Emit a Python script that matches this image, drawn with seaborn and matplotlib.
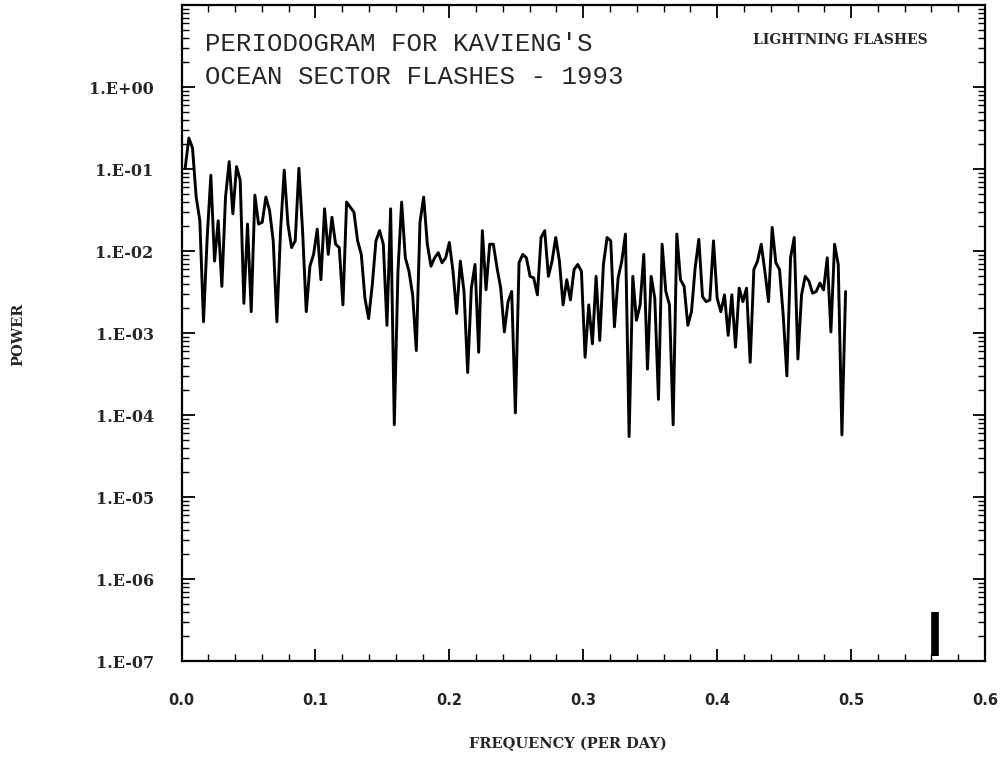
import numpy as np
import pandas as pd
import matplotlib
matplotlib.use("Agg")
import matplotlib.pyplot as plt
import matplotlib.ticker as mticker
import seaborn as sns

# ---------------- data ----------------
n_days = 365
power = [
    0.102, 0.239, 0.18, 0.0455, 0.0234, 0.00137, 0.0146, 0.084, 0.00753, 0.0234,
    0.0037, 0.0455, 0.123, 0.0284, 0.107, 0.073, 0.0023, 0.0213, 0.00182, 0.048,
    0.0213, 0.0224, 0.0455, 0.0312, 0.0133, 0.00137, 0.0177, 0.097, 0.0213, 0.011,
    0.0133, 0.102, 0.0177, 0.00182, 0.00653, 0.0091, 0.0185, 0.00447, 0.0327, 0.0091,
    0.0258, 0.0121, 0.011, 0.0022, 0.0395, 0.0343, 0.0297, 0.0133, 0.0091, 0.00265,
    0.0015, 0.00388, 0.0133, 0.0177, 0.0121, 0.00124, 0.0327, 0.000076, 0.00567, 0.0395,
    0.00827, 0.00567, 0.00292, 0.000611, 0.0224, 0.0455, 0.0121, 0.00653, 0.00827, 0.00953,
    0.00718, 0.00827, 0.0127, 0.00567, 0.00173, 0.00753, 0.00321, 0.00033, 0.00353, 0.00685,
    0.000582, 0.0177, 0.00336, 0.0121, 0.0121, 0.00623, 0.00353, 0.00103, 0.00241, 0.00321,
    0.000106, 0.00718, 0.0091, 0.00827, 0.00491, 0.00469, 0.00292, 0.0146, 0.0177, 0.00491,
    0.00753, 0.0146, 0.00753, 0.0022, 0.00447, 0.00253, 0.00594, 0.00685, 0.00567, 0.000506,
    0.0022, 0.000738, 0.00491, 0.000811, 0.00685, 0.0146, 0.0133, 0.00119, 0.00469, 0.00753,
    0.0161, 0.0000545, 0.00491, 0.00143, 0.0022, 0.0091, 0.000363, 0.00491, 0.00265, 0.000155,
    0.0121, 0.00321, 0.0022, 0.000076, 0.0161, 0.00447, 0.0037, 0.00124, 0.00182, 0.00623,
    0.0139, 0.00278, 0.00241, 0.00253, 0.0133, 0.00265, 0.00182, 0.00292, 0.000935, 0.00292,
    0.000672, 0.00353, 0.00241, 0.00353, 0.000439, 0.00594, 0.00753, 0.0121, 0.00567, 0.00241,
    0.0194, 0.00718, 0.00594, 0.00165, 0.0003, 0.00827, 0.0146, 0.000482, 0.00292, 0.00491,
    0.0043, 0.00306, 0.00321, 0.00406, 0.00336, 0.00827, 0.00103, 0.0121, 0.00685, 0.0000571,
    0.00321,
]
frequency = np.arange(1, len(power) + 1) / n_days

# error-bar marker (bottom right)
bar_frequency = 0.5625
bar_low = 1.15e-7
bar_high = 4.0e-7

x_ticks = [0.0, 0.1, 0.2, 0.3, 0.4, 0.5, 0.6]
x_tick_labels = ["0.0", "0.1", "0.2", "0.3", "0.4", "0.5", "0.6"]
y_ticks = [1e0, 1e-1, 1e-2, 1e-3, 1e-4, 1e-5, 1e-6, 1e-7]
y_tick_labels = ["1.E+00", "1.E-01", "1.E-02", "1.E-03", "1.E-04",
                 "1.E-05", "1.E-06", "1.E-07"]

title_line1 = "PERIODOGRAM FOR KAVIENG'S"
title_line2 = "OCEAN SECTOR FLASHES - 1993"
corner_label = "LIGHTNING FLASHES"
x_label = "FREQUENCY (PER DAY)"
y_label = "POWER"

df = pd.DataFrame({"frequency": frequency, "power": power})

# ---------------- plot ----------------
sns.set_style("ticks")
plt.rcParams["font.family"] = ["DejaVu Sans"]

fig = plt.figure(figsize=(10.01, 7.61), dpi=100)
ax = fig.add_axes([181.5 / 1001, 1 - 661 / 761, (985 - 181.5) / 1001, (661 - 5) / 761])

sns.lineplot(data=df, x="frequency", y="power", ax=ax, color="black",
             linewidth=2.1, estimator=None, sort=False)
ax.vlines(bar_frequency, bar_low, bar_high, color="black", linewidth=5.5)

ax.set_yscale("log")
ax.set_xlim(0, 0.6)
ax.set_ylim(1e-7, 1e1)

ax.set_xticks(x_ticks)
ax.set_xticklabels(x_tick_labels)
ax.xaxis.set_minor_locator(mticker.MultipleLocator(0.02))
ax.set_yticks(y_ticks)
ax.set_yticklabels(y_tick_labels)
ax.yaxis.set_minor_locator(mticker.LogLocator(base=10, subs=np.arange(2, 10), numticks=20))
ax.yaxis.set_minor_formatter(mticker.NullFormatter())

ax.tick_params(axis="both", which="both", direction="in", top=True, right=True,
               color="black")
ax.tick_params(axis="both", which="major", length=9, width=1.3)
ax.tick_params(axis="both", which="minor", length=5, width=1.0)
ax.tick_params(axis="y", which="major", pad=20)
ax.tick_params(axis="x", which="major", pad=23)
for lab in ax.get_yticklabels():
    lab.set_fontfamily("DejaVu Serif")
    lab.set_fontweight("bold")
    lab.set_fontsize(11.5)
for lab in ax.get_xticklabels():
    lab.set_fontweight("bold")
    lab.set_fontsize(10.5)

for sp in ax.spines.values():
    sp.set_visible(True)
    sp.set_linewidth(1.6)
    sp.set_color("black")

ax.set_xlabel("")
ax.set_ylabel("")

fig.text(0.567, 1 - 744 / 761, x_label, ha="center", va="center",
         fontfamily="DejaVu Serif", fontweight="bold", fontsize=10.5)
fig.text(0.018, 1 - 334 / 761, y_label, ha="center", va="center", rotation=90,
         fontfamily="DejaVu Serif", fontweight="bold", fontsize=10.5)

fig.text(205 / 1001, 1 - 44 / 761, title_line1, ha="left", va="center",
         fontfamily="Liberation Mono", fontsize=18.5)
fig.text(205 / 1001, 1 - 77 / 761, title_line2, ha="left", va="center",
         fontfamily="Liberation Mono", fontsize=18.5)
fig.text(840 / 1001, 1 - 40 / 761, corner_label, ha="center", va="center",
         fontfamily="DejaVu Serif", fontweight="bold", fontsize=10)

fig.savefig("out.png", dpi=100)
